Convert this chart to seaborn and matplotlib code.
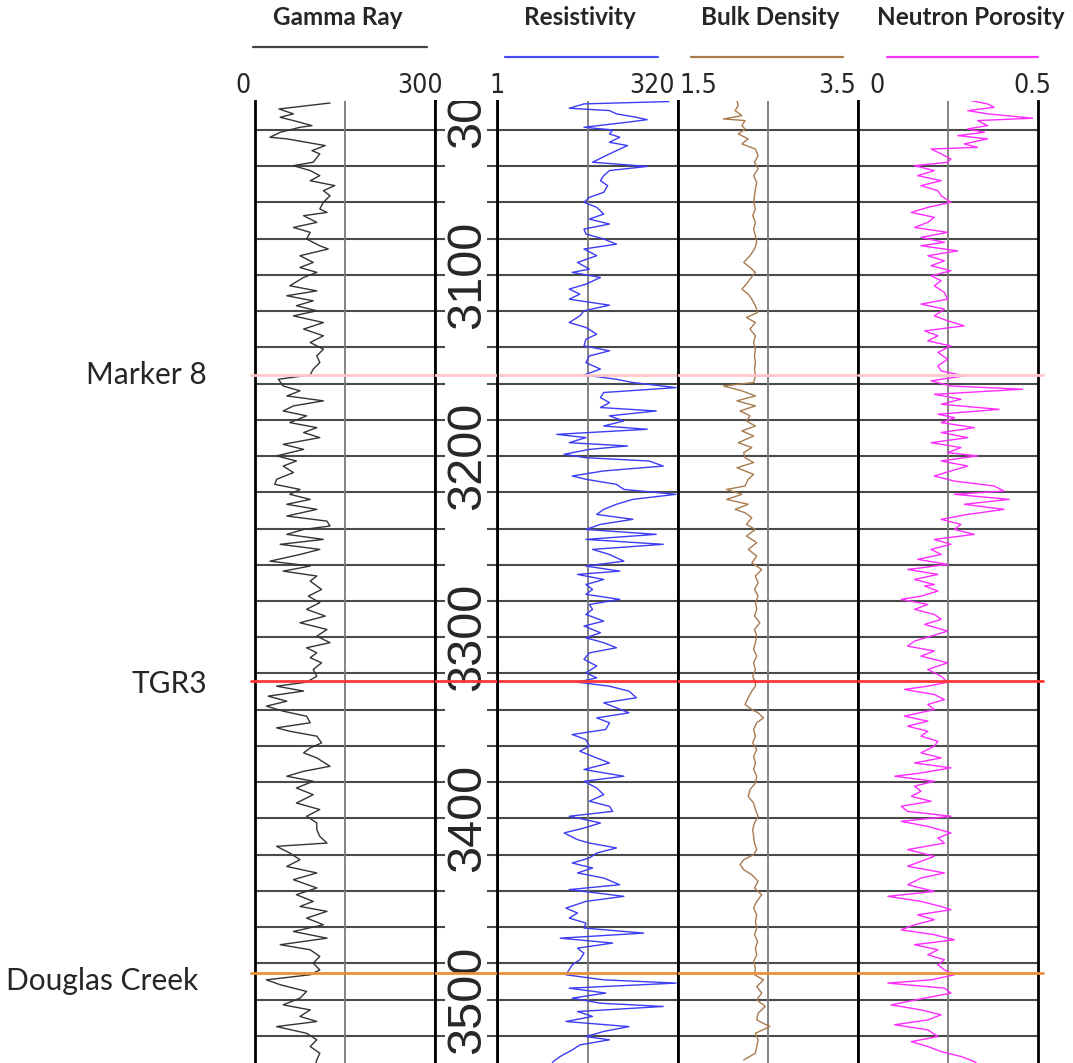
import numpy as np
import matplotlib
matplotlib.use("Agg")
import matplotlib.pyplot as plt
from matplotlib.lines import Line2D
import seaborn as sns

# (depth ft, value) pairs
gamma_ray = [
    (3005.1, 125), (3008.4, 40), (3011.1, 64), (3013.0, 42), (3014.8, 64), (3017.6, 95), (3018.5, 75),
    (3021.3, 42), (3024.0, 25), (3024.9, 53), (3028.6, 117), (3031.4, 95), (3033.2, 108), (3037.8, 97),
    (3039.7, 64), (3042.4, 92), (3045.2, 108), (3048.0, 92), (3050.7, 133), (3053.5, 114), (3056.3, 125),
    (3059.9, 114), (3063.6, 108), (3065.5, 120), (3067.3, 81), (3071.0, 103), (3073.8, 64), (3076.5, 92),
    (3080.2, 86), (3083.9, 108), (3085.7, 122), (3089.4, 75), (3093.1, 97), (3095.9, 75), (3098.6, 103),
    (3101.4, 81), (3106.0, 58), (3108.8, 103), (3111.5, 53), (3114.3, 97), (3117.0, 69), (3119.8, 103),
    (3122.6, 64), (3126.3, 114), (3129.9, 81), (3133.6, 114), (3137.3, 92), (3141.0, 114), (3144.7, 103),
    (3148.4, 108), (3152.0, 97), (3155.2, 92), (3157.6, 39), (3161.3, 47), (3164.0, 75), (3166.8, 53),
    (3169.5, 114), (3172.3, 64), (3175.1, 47), (3177.8, 86), (3181.5, 58), (3184.3, 103), (3187.0, 81),
    (3189.8, 108), (3193.5, 47), (3196.3, 81), (3199.9, 36), (3202.7, 69), (3205.5, 47), (3209.1, 64),
    (3212.8, 36), (3215.6, 33), (3218.4, 75), (3221.1, 58), (3223.9, 92), (3226.6, 53), (3229.4, 103),
    (3233.1, 53), (3235.9, 120), (3238.6, 125), (3240.5, 81), (3243.2, 53), (3246.0, 114), (3248.7, 42),
    (3251.5, 108), (3254.3, 75), (3258.0, 25), (3260.7, 92), (3263.5, 47), (3266.2, 103), (3269.0, 92),
    (3273.6, 111), (3277.3, 89), (3280.9, 108), (3284.6, 86), (3288.3, 117), (3292.0, 75), (3295.7, 120),
    (3299.4, 103), (3303.0, 125), (3305.8, 86), (3308.6, 103), (3311.3, 92), (3314.1, 111), (3317.8, 97),
    (3321.5, 103), (3324.8, 86), (3327.0, 36), (3329.7, 81), (3332.5, 22), (3335.3, 53), (3338.0, 19),
    (3340.8, 47), (3343.6, 86), (3347.2, 92), (3350.0, 36), (3351.9, 58), (3354.6, 103), (3358.3, 111),
    (3361.1, 92), (3363.8, 81), (3366.6, 103), (3371.2, 125), (3374.0, 81), (3376.7, 53), (3379.5, 97),
    (3383.2, 69), (3386.9, 97), (3391.5, 69), (3395.1, 108), (3398.8, 86), (3402.5, 103), (3406.2, 103),
    (3409.9, 108), (3413.6, 120), (3415.4, 36), (3419.1, 58), (3422.8, 75), (3426.5, 53), (3430.1, 103),
    (3433.8, 64), (3438.4, 103), (3442.1, 69), (3445.8, 97), (3448.6, 75), (3451.3, 120), (3455.0, 86),
    (3458.7, 114), (3462.4, 64), (3466.1, 120), (3469.7, 42), (3472.5, 92), (3476.2, 108), (3479.9, 97),
    (3483.6, 108), (3486.3, 92), (3489.1, 19), (3491.8, 42), (3495.5, 86), (3499.2, 75), (3502.9, 47),
    (3505.7, 92), (3509.3, 75), (3512.1, 103), (3514.9, 36), (3518.6, 86), (3522.2, 103), (3525.9, 92),
    (3529.6, 108), (3533.3, 103), (3536.9, 100),
]

resistivity = [
    (3004.3, 240), (3005.6, 16), (3008.0, 10), (3009.3, 36), (3011.1, 45), (3013.0, 85), (3014.3, 120),
    (3015.7, 64), (3018.5, 16), (3020.0, 40), (3022.2, 36), (3024.0, 50), (3026.8, 36), (3028.6, 64),
    (3031.4, 45), (3034.2, 32), (3037.8, 21), (3040.1, 120), (3042.4, 36), (3045.2, 30), (3048.0, 27),
    (3050.7, 34), (3054.4, 30), (3057.2, 19), (3059.9, 16), (3062.7, 24), (3066.4, 30), (3069.2, 19),
    (3071.9, 36), (3074.7, 16), (3077.4, 17), (3080.2, 30), (3083.0, 45), (3085.7, 16), (3089.4, 24),
    (3093.1, 13), (3096.8, 19), (3098.6, 11), (3101.4, 27), (3105.1, 17), (3107.8, 10), (3110.6, 14),
    (3113.4, 10), (3116.7, 36), (3119.8, 16), (3122.6, 14), (3126.3, 10), (3129.0, 17), (3132.7, 24),
    (3135.5, 17), (3139.2, 16), (3141.9, 36), (3144.7, 19), (3148.4, 17), (3152.0, 27), (3155.2, 16),
    (3157.6, 45), (3159.4, 76), (3162.2, 300), (3164.9, 30), (3167.7, 27), (3170.5, 36), (3173.2, 27),
    (3175.1, 160), (3177.8, 36), (3180.6, 57), (3183.4, 30), (3185.2, 120), (3188.0, 6.7), (3189.8, 17),
    (3192.6, 10), (3194.4, 64), (3196.3, 19), (3199.0, 8.5), (3200.9, 17), (3202.7, 127), (3205.5, 200),
    (3208.2, 30), (3211.0, 11), (3212.8, 17), (3215.6, 45), (3218.4, 57), (3221.1, 300), (3223.9, 76),
    (3226.6, 45), (3229.4, 30), (3232.2, 24), (3234.9, 76), (3237.7, 27), (3240.5, 17), (3243.2, 160),
    (3246.0, 17), (3248.7, 200), (3251.5, 21), (3254.3, 36), (3258.0, 57), (3260.7, 17), (3263.5, 50),
    (3265.3, 13), (3268.1, 30), (3270.9, 17),
    (3273.6, 21), (3276.3, 17), (3279.1, 50), (3281.9, 19), (3284.6, 21), (3287.4, 17), (3291.1, 30),
    (3293.8, 16), (3297.5, 27), (3300.3, 17), (3303.0, 30), (3305.8, 45), (3308.6, 19), (3312.2, 16),
    (3315.9, 24), (3319.6, 17), (3322.4, 24), (3324.8, 13), (3327.0, 36), (3329.7, 67), (3333.4, 85),
    (3336.2, 30), (3339.0, 45), (3341.7, 67), (3344.5, 24), (3347.2, 36), (3350.9, 32), (3353.7, 11),
    (3356.5, 17), (3360.1, 19), (3362.9, 14), (3366.6, 24), (3369.4, 36), (3373.0, 16), (3376.7, 57),
    (3379.5, 16), (3383.2, 24), (3386.9, 30), (3390.5, 19), (3393.3, 36), (3396.1, 40), (3398.8, 10),
    (3402.5, 27), (3405.3, 16), (3408.0, 8.5), (3411.7, 13), (3413.6, 19), (3416.3, 45), (3419.1, 24),
    (3421.8, 19), (3424.6, 11), (3427.4, 21), (3430.1, 13), (3432.9, 30), (3436.6, 50), (3439.3, 10),
    (3443.0, 57), (3445.8, 17), (3449.5, 9), (3452.2, 13), (3455.0, 10), (3457.8, 17), (3460.5, 16),
    (3463.3, 107), (3466.1, 7.5), (3468.8, 40), (3471.6, 13), (3474.4, 16), (3478.0, 14), (3480.8, 11),
    (3486.3, 9), (3489.1, 30), (3490.9, 300), (3493.7, 10), (3496.4, 32), (3499.2, 11), (3502.0, 27),
    (3503.8, 200), (3506.6, 13), (3509.3, 21), (3512.1, 9), (3514.9, 67), (3517.6, 30), (3520.4, 17),
    (3522.2, 36), (3525.0, 14), (3527.8, 11), (3531.4, 7.5), (3534.2, 6), (3536.9, 5.5),
]

bulk_density = [
    (3003.8, 2.155), (3006.5, 2.17), (3009.3, 2.135), (3012.1, 2.21), (3013.9, 2.005), (3014.8, 2.245),
    (3017.6, 2.21), (3019.4, 2.245), (3022.2, 2.17), (3024.9, 2.28), (3027.7, 2.21), (3030.5, 2.36),
    (3034.2, 2.39), (3037.8, 2.35), (3041.5, 2.39), (3045.2, 2.34), (3048.9, 2.375), (3052.6, 2.36),
    (3056.3, 2.35), (3059.9, 2.34), (3063.6, 2.36), (3067.3, 2.33), (3071.0, 2.36), (3074.7, 2.34),
    (3078.4, 2.36), (3082.0, 2.375), (3085.7, 2.35), (3089.4, 2.30), (3093.1, 2.23), (3095.9, 2.30),
    (3098.6, 2.36), (3102.3, 2.30), (3105.1, 2.26), (3107.8, 2.21), (3110.6, 2.28), (3113.4, 2.32),
    (3117.0, 2.36), (3120.7, 2.385), (3123.5, 2.26), (3126.3, 2.36), (3129.9, 2.30), (3133.6, 2.36),
    (3137.3, 2.34), (3141.0, 2.36), (3144.7, 2.35), (3148.4, 2.36), (3152.0, 2.35), (3155.7, 2.36),
    (3159.4, 2.34), (3161.3, 2.005), (3164.0, 2.21), (3166.8, 2.36), (3169.5, 2.155), (3172.3, 2.36),
    (3175.1, 2.19), (3177.8, 2.30), (3180.6, 2.26), (3183.4, 2.36), (3186.1, 2.21), (3188.9, 2.34),
    (3192.6, 2.17), (3195.3, 2.32), (3198.1, 2.23), (3200.9, 2.245), (3203.6, 2.34), (3206.4, 2.155),
    (3210.1, 2.34), (3212.8, 2.28), (3216.5, 2.245), (3218.4, 2.04), (3221.1, 2.21), (3223.9, 2.04),
    (3226.6, 2.28), (3229.4, 2.135), (3231.3, 2.245), (3234.0, 2.32), (3237.7, 2.26), (3240.5, 2.36),
    (3244.1, 2.26), (3247.8, 2.375), (3251.5, 2.28), (3255.2, 2.375), (3258.9, 2.32), (3262.6, 2.43),
    (3266.2, 2.36), (3269.9, 2.39),
    (3273.6, 2.35), (3277.3, 2.39), (3280.9, 2.36), (3284.6, 2.375), (3288.3, 2.35), (3292.0, 2.41),
    (3295.7, 2.35), (3299.4, 2.375), (3303.0, 2.36), (3306.7, 2.34), (3310.4, 2.375), (3314.1, 2.34),
    (3317.8, 2.36), (3321.5, 2.33), (3324.8, 2.36), (3327.0, 2.36), (3329.7, 2.32), (3333.4, 2.28),
    (3337.1, 2.245), (3339.9, 2.32), (3341.7, 2.39), (3344.5, 2.45), (3347.2, 2.375), (3350.9, 2.34),
    (3354.6, 2.36), (3358.3, 2.33), (3362.0, 2.375), (3365.7, 2.34), (3369.4, 2.36), (3373.0, 2.34),
    (3376.7, 2.375), (3380.4, 2.36), (3384.1, 2.30), (3387.8, 2.28), (3391.5, 2.34), (3395.1, 2.36),
    (3398.8, 2.39), (3402.5, 2.35), (3406.2, 2.33), (3409.9, 2.34), (3413.6, 2.35), (3417.2, 2.375),
    (3420.0, 2.34), (3422.8, 2.23), (3425.5, 2.19), (3428.3, 2.23), (3431.1, 2.32), (3434.7, 2.39),
    (3438.4, 2.35), (3442.1, 2.43), (3445.8, 2.375), (3449.5, 2.34), (3453.2, 2.375), (3456.9, 2.36),
    (3460.5, 2.375), (3464.2, 2.35), (3467.9, 2.385), (3471.6, 2.36), (3475.3, 2.375), (3478.9, 2.34),
    (3482.6, 2.36), (3486.3, 2.35), (3489.1, 2.45), (3492.8, 2.375), (3496.4, 2.43), (3500.1, 2.375),
    (3503.8, 2.47), (3507.5, 2.39), (3511.2, 2.375), (3514.9, 2.52), (3518.6, 2.36), (3522.2, 2.39),
    (3525.9, 2.375), (3529.6, 2.36), (3533.3, 2.23),
]

neutron_porosity = [
    (3003.8, 0.314), (3005.6, 0.36), (3007.5, 0.378), (3009.3, 0.305), (3011.1, 0.36), (3013.5, 0.485),
    (3014.8, 0.332), (3017.6, 0.36), (3019.4, 0.305), (3021.3, 0.351), (3023.1, 0.277), (3024.9, 0.36),
    (3027.7, 0.295), (3029.6, 0.332), (3030.5, 0.203), (3033.2, 0.231), (3036.0, 0.258), (3037.8, 0.249),
    (3039.7, 0.157), (3042.4, 0.212), (3045.2, 0.166), (3048.0, 0.231), (3050.7, 0.175), (3053.5, 0.222),
    (3056.3, 0.231), (3059.9, 0.258), (3062.7, 0.194), (3065.5, 0.148), (3068.2, 0.212), (3071.0, 0.194),
    (3073.8, 0.157), (3076.5, 0.249), (3079.3, 0.175), (3082.0, 0.240), (3083.9, 0.175), (3086.7, 0.277),
    (3089.4, 0.194), (3092.2, 0.240), (3094.9, 0.203), (3097.7, 0.258), (3100.5, 0.203), (3103.2, 0.231),
    (3106.0, 0.212), (3109.7, 0.240), (3113.4, 0.249), (3116.1, 0.175), (3118.9, 0.240), (3122.6, 0.212),
    (3125.3, 0.249), (3128.1, 0.295), (3130.9, 0.185), (3133.6, 0.222), (3136.4, 0.194), (3139.2, 0.258),
    (3142.8, 0.222), (3146.5, 0.249), (3150.2, 0.222), (3153.0, 0.231), (3155.7, 0.295), (3158.5, 0.203),
    (3161.3, 0.258), (3163.1, 0.457), (3165.9, 0.212), (3168.6, 0.286), (3171.4, 0.231), (3174.2, 0.392),
    (3176.9, 0.222), (3178.8, 0.268), (3181.5, 0.231), (3184.3, 0.323), (3187.0, 0.231), (3189.8, 0.305),
    (3192.6, 0.203), (3195.3, 0.286), (3198.1, 0.249), (3199.9, 0.332), (3202.7, 0.231), (3205.5, 0.305),
    (3208.2, 0.258), (3211.0, 0.212), (3213.8, 0.268), (3216.5, 0.378), (3219.3, 0.406), (3221.1, 0.268),
    (3223.9, 0.42), (3226.6, 0.295), (3229.4, 0.406), (3232.2, 0.305), (3234.9, 0.231), (3237.7, 0.286),
    (3240.5, 0.268), (3243.2, 0.323), (3246.0, 0.212), (3248.7, 0.258), (3251.5, 0.203), (3254.3, 0.231),
    (3257.0, 0.166), (3259.8, 0.249), (3262.6, 0.138), (3265.3, 0.222), (3268.1, 0.157), (3270.9, 0.212),
    (3271.7, 0.185), (3274.5, 0.222), (3277.3, 0.175), (3279.1, 0.12), (3281.9, 0.194), (3284.6, 0.157),
    (3287.4, 0.212), (3290.1, 0.231), (3292.9, 0.185), (3296.6, 0.249), (3299.4, 0.203), (3302.1, 0.157),
    (3304.9, 0.138), (3307.6, 0.212), (3310.4, 0.175), (3314.1, 0.249), (3317.8, 0.194), (3321.5, 0.231),
    (3324.8, 0.249), (3327.0, 0.194), (3328.8, 0.129), (3331.6, 0.212), (3334.4, 0.240), (3337.1, 0.194),
    (3339.9, 0.212), (3343.6, 0.129), (3346.3, 0.194), (3349.1, 0.138), (3351.9, 0.194), (3354.6, 0.175),
    (3357.4, 0.222), (3360.1, 0.212), (3363.8, 0.175), (3366.6, 0.231), (3369.4, 0.157), (3372.1, 0.258),
    (3374.9, 0.175), (3376.7, 0.102), (3379.5, 0.212), (3382.2, 0.157), (3385.0, 0.175), (3387.8, 0.148),
    (3390.5, 0.203), (3393.3, 0.12), (3396.1, 0.138), (3398.8, 0.258), (3401.6, 0.12), (3404.4, 0.194),
    (3408.0, 0.258), (3410.8, 0.222), (3413.6, 0.240), (3417.2, 0.138), (3420.9, 0.212), (3423.7, 0.175),
    (3426.4, 0.138), (3430.1, 0.240), (3432.9, 0.175), (3436.6, 0.138), (3440.3, 0.212), (3443.0, 0.083),
    (3445.8, 0.175), (3448.6, 0.231), (3450.4, 0.258), (3453.2, 0.166), (3455.9, 0.212), (3458.7, 0.157),
    (3461.5, 0.12), (3464.2, 0.212), (3467.0, 0.268), (3469.7, 0.157), (3472.5, 0.222), (3475.3, 0.194),
    (3478.0, 0.240), (3480.8, 0.222), (3483.6, 0.240), (3486.3, 0.268), (3489.1, 0.203), (3490.9, 0.083),
    (3493.7, 0.240), (3496.4, 0.258), (3499.2, 0.185), (3502.9, 0.092), (3505.7, 0.175), (3508.4, 0.231),
    (3511.2, 0.194), (3513.9, 0.102), (3516.7, 0.194), (3520.4, 0.222), (3523.2, 0.148), (3525.9, 0.194),
    (3528.7, 0.231), (3531.4, 0.286), (3534.2, 0.323), (3536.9, 0.34),
]

tops = ["Marker 8", "TGR3", "Douglas Creek"]
top_depths = [3155.2, 3324.1, 3485.5]
top_colors = ["#ffc6ca", "#ff3535", "#e8913a"]

depth_labels = [3000, 3100, 3200, 3300, 3400, 3500]
grid_depths = list(range(3020, 3521, 20))
depth_range = (3535, 3004)

W, H = 1073, 1063
sns.set_theme(style="white")
fig = plt.figure(figsize=(W / 100, H / 100), dpi=100)

title_font = ["Lato", "DejaVu Sans"]
scale_font = ["DejaVu Sans Condensed", "Liberation Sans Narrow", "DejaVu Sans"]
depth_font = ["Liberation Sans", "DejaVu Sans"]


def fx(x):
    return x / W


def fy(y):
    return 1 - y / H


def add_track(x0, x1, top=101, bottom=1063):
    return fig.add_axes([fx(x0), fy(bottom), (x1 - x0) / W, (bottom - top) / H])


def style_track(ax, xlim, log=False):
    if log:
        ax.set_xscale("log")
    ax.set_xlim(*xlim)
    ax.set_ylim(*depth_range)
    ax.set_xticks([])
    ax.set_xticks([], minor=True)
    ax.set_yticks(grid_depths)
    ax.tick_params(which="both", left=False, bottom=False, labelleft=False, labelbottom=False)
    ax.grid(axis="y", color="#4a4a4a", lw=1.5)
    ax.grid(axis="x", visible=False)
    ax.plot([0.5, 0.5], [0, 1], transform=ax.transAxes, color="#7a7a7a", lw=1.3, zorder=1)
    for s in ["top", "bottom"]:
        ax.spines[s].set_visible(False)
    for s in ["left", "right"]:
        ax.spines[s].set_color("black")
        ax.spines[s].set_linewidth(2)
    ax.set_xlabel("")
    ax.set_ylabel("")


tracks = [
    # data, x range px, xlim, log, colour
    (gamma_ray, (255, 435), (0, 300), False, "#333333"),
    (resistivity, (497, 678), (1, 320), True, "#3c3cf5"),
    (bulk_density, (678, 858), (1.5, 3.5), False, "#a87b4f"),
    (neutron_porosity, (858, 1038), (0, 0.5), False, "#ff2bff"),
]

axes = []
for data, (x0, x1), xlim, log, color in tracks:
    ax = add_track(x0, x1)
    if log:
        ax.set_xscale("log")
    arr = np.array(data)
    sns.lineplot(x=arr[:, 1], y=arr[:, 0], orient="y", sort=False, estimator=None,
                 color=color, lw=1.0, ax=ax, zorder=3)
    style_track(ax, xlim, log)
    axes.append(ax)

# depth track
axd = add_track(435, 497)
axd.set_xlim(0, 1)
axd.set_ylim(*depth_range)
axd.set_xticks([])
axd.set_yticks(grid_depths)
axd.tick_params(axis="y", left=True, right=True, direction="in", length=7.5, width=1.5,
                color="#4a4a4a", labelleft=False)
for s in ["top", "bottom"]:
    axd.spines[s].set_visible(False)
for s in ["left", "right"]:
    axd.spines[s].set_color("black")
    axd.spines[s].set_linewidth(2)
for d in depth_labels:
    axd.text(0.52, d, str(d), transform=axd.get_yaxis_transform(), rotation=90,
             ha="center", va="center", fontsize=35, family=depth_font, clip_on=True)

# formation tops across all tracks
for d, c in zip(top_depths, top_colors):
    for ax in axes[1:3] + [axd]:
        ax.axhline(d, color=c, lw=2, zorder=5)
    axes[0].axhline(d, xmin=-0.02, color=c, lw=2, zorder=5, clip_on=False)
    axes[3].axhline(d, xmax=1.03, color=c, lw=2, zorder=5, clip_on=False)

top_label_px = [(207, 384), (207, 693), (198, 990)]
for name, (x, y) in zip(tops, top_label_px):
    fig.text(fx(x), fy(y), name, ha="right", va="baseline", fontsize=21.5, family=title_font)

# headers
headers = [
    ("Gamma Ray", 338, (253, 427, 47), "#444444",
     [("0", 243, "center"), ("300", 443, "right")]),
    ("Resistivity", 580, (505, 658, 57), "#4a4aff",
     [("1", 497, "center"), ("320", 675, "right")]),
    ("Bulk Density", 770, (691, 843, 57), "#a9794a",
     [("1.5", 679, "left"), ("3.5", 856, "right")]),
    ("Neutron Porosity", 971, (887, 1038, 57), "#ff33ff",
     [("0", 877, "center"), ("0.5", 1051, "right")]),
]
for title, tx, (lx0, lx1, ly), lc, scale in headers:
    fig.text(fx(tx), fy(25), title, ha="center", va="baseline", fontsize=17.5,
             fontweight="bold", family=title_font)
    fig.add_artist(Line2D([fx(lx0), fx(lx1)], [fy(ly), fy(ly)], color=lc, lw=1.6))
    for label, sx, ha in scale:
        fig.text(fx(sx), fy(93), label, ha=ha, va="baseline", fontsize=19,
                 family=scale_font, fontstretch="condensed")

fig.savefig("out.png", dpi=100)
